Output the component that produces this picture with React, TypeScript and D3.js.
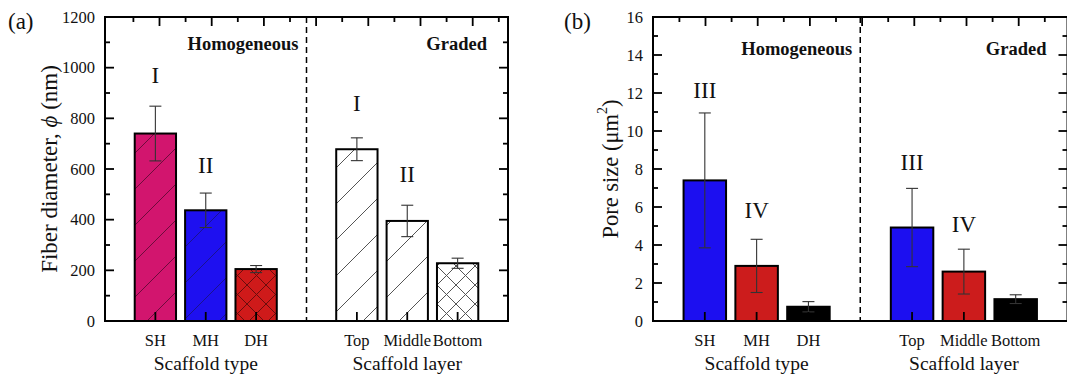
import React from 'react';
import * as d3 from 'd3';

// ---------- data ----------
const categories = ['SH', 'MH', 'DH', 'Top', 'Middle', 'Bottom'];
const bandKeys = ['SH', 'MH', 'DH', 'divider', 'Top', 'Middle', 'Bottom'];
const groupTitles = ['Scaffold type', 'Scaffold layer'];
const groupCenters = ['MH', 'Middle'];
const sectionTitles = ['Homogeneous', 'Graded'];

const fiberMean = [740, 437, 205, 678, 395, 228];
const fiberErr = [108, 68, 14, 45, 62, 20];
const fiberLetters = ['I', 'II', '', 'I', 'II', ''];
const fiberLetterLevels = [938, 583, 0, 830, 550, 0];
const fiberTicks = [0, 200, 400, 600, 800, 1000, 1200];

const poreMean = [7.4, 2.9, 0.75, 4.92, 2.6, 1.15];
const poreErr = [3.55, 1.4, 0.27, 2.06, 1.18, 0.23];
const poreLetters = ['III', 'IV', '', 'III', 'IV', ''];
const poreLetterLevels = [11.75, 5.4, 0, 7.95, 4.67, 0];
const poreTicks = [0, 2, 4, 6, 8, 10, 12, 14, 16];

const fiberFills = ['#d2156e', '#1e10f0', '#cf1a1a', '#ffffff', '#ffffff', '#ffffff'];
const fiberHatch = ['diag', 'diag', 'cross', 'diag', 'diag', 'cross'];
const fiberHatchColors = ['#6e0b3c', '#1a1290', '#6a0d0d', '#555555', '#555555', '#555555'];
const poreFills = ['#1c0ff0', '#cc1c1c', '#000000', '#1c0ff0', '#cc1c1c', '#000000'];
const poreHatch = ['none', 'none', 'none', 'none', 'none', 'none'];

const FONT = '"Liberation Serif", "Times New Roman", Times, serif';

type PanelProps = {
  id: string;
  left: number;
  right: number;
  top: number;
  bottom: number;
  yMax: number;
  ticks: number[];
  minorStep: number;
  means: number[];
  errs: number[];
  fills: string[];
  hatch: string[];
  hatchColors?: string[];
  letters: string[];
  letterLevels: number[];
  panelLabel: string;
  panelLabelX: number;
  yTitle: React.ReactNode;
  yTitleX: number;
  yTitleSize: number;
  sectionBaseline: number;
  topTickOffset: number;
};

function Panel(p: PanelProps) {
  const x = d3
    .scaleBand<string>()
    .domain(bandKeys)
    .range([p.left, p.right])
    .paddingInner(0.18)
    .paddingOuter(0.59);
  const y = d3.scaleLinear().domain([0, p.yMax]).range([p.bottom, p.top]);
  const bw = x.bandwidth();
  const cx = (k: string) => (x(k) as number) + bw / 2;
  const divX = cx('divider');

  const minorTicks = d3.range(0, p.yMax + 1e-9, p.minorStep).filter(
    (v) => !p.ticks.some((t) => Math.abs(t - v) < 1e-9)
  );

  const topScale = d3
    .scaleLinear()
    .domain([0, 8])
    .range([p.left + p.topTickOffset, p.left + p.topTickOffset + 8 * 52.2]);
  const topTicks = d3.range(0.5, 8.01, 0.5).filter((v) => topScale(v) < p.right - 3);

  return (
    <g fontFamily={FONT}>
      <defs>
        {categories.map((c, i) => {
          if (p.hatch[i] === 'diag') {
            return (
              <pattern key={c} id={`${p.id}-pat-${i}`} patternUnits="userSpaceOnUse" width={36} height={36}>
                <rect width={36} height={36} fill={p.fills[i]} />
                <path
                  d="M0,36 L36,0 M-9,9 L9,-9 M27,45 L45,27"
                  stroke={p.hatchColors![i]}
                  strokeWidth={1}
                />
              </pattern>
            );
          }
          if (p.hatch[i] === 'cross') {
            return (
              <pattern key={c} id={`${p.id}-pat-${i}`} patternUnits="userSpaceOnUse" width={19} height={19}>
                <rect width={19} height={19} fill={p.fills[i]} />
                <path
                  d="M0,19 L19,0 M-5,5 L5,-5 M14,24 L24,14 M0,0 L19,19 M-5,14 L5,24 M14,-5 L24,5"
                  stroke={p.hatchColors![i]}
                  strokeWidth={1}
                />
              </pattern>
            );
          }
          return null;
        })}
      </defs>

      {categories.map((c, i) => (
        <rect
          key={c}
          x={x(c)}
          y={y(p.means[i])}
          width={bw}
          height={y(0) - y(p.means[i])}
          fill={p.hatch[i] === 'none' ? p.fills[i] : `url(#${p.id}-pat-${i})`}
          stroke="#000"
          strokeWidth={2}
        />
      ))}

      {categories.map((c, i) => {
        const xc = cx(c);
        const y1 = y(p.means[i] + p.errs[i]);
        const y2 = y(p.means[i] - p.errs[i]);
        return (
          <g key={c} stroke="#333" strokeWidth={1.1}>
            <line x1={xc} x2={xc} y1={y1} y2={y2} />
            <line x1={xc - 6} x2={xc + 6} y1={y1} y2={y1} />
            <line x1={xc - 6} x2={xc + 6} y1={y2} y2={y2} />
          </g>
        );
      })}

      <line x1={divX} x2={divX} y1={p.top} y2={p.bottom} stroke="#000" strokeWidth={1.5} strokeDasharray="6,4" />

      <rect
        x={p.left}
        y={p.top}
        width={p.right - p.left}
        height={p.bottom - p.top}
        fill="none"
        stroke="#000"
        strokeWidth={2}
      />

      {p.ticks.map((t) => (
        <g key={'M' + t} stroke="#000" strokeWidth={1.8}>
          <line x1={p.left} x2={p.left + 9} y1={y(t)} y2={y(t)} />
          <line x1={p.right} x2={p.right - 9} y1={y(t)} y2={y(t)} />
        </g>
      ))}
      {minorTicks.map((t) => (
        <g key={'m' + t} stroke="#000" strokeWidth={1.8}>
          <line x1={p.left} x2={p.left + 5} y1={y(t)} y2={y(t)} />
          <line x1={p.right} x2={p.right - 5} y1={y(t)} y2={y(t)} />
        </g>
      ))}

      {topTicks.map((t) => (
        <line
          key={'t' + t}
          x1={topScale(t)}
          x2={topScale(t)}
          y1={p.top}
          y2={p.top + (Number.isInteger(t) ? 9 : 5)}
          stroke="#000"
          strokeWidth={1.8}
        />
      ))}

      {categories.map((c) => (
        <line key={'b' + c} x1={cx(c)} x2={cx(c)} y1={p.bottom} y2={p.bottom - 9} stroke="#000" strokeWidth={1.8} />
      ))}

      {p.ticks.map((t) => (
        <text key={'l' + t} x={p.left - 10} y={y(t)} dy="0.35em" textAnchor="end" fontSize={16.5} fill="#111">
          {t}
        </text>
      ))}

      {categories.map((c) => (
        <text key={'c' + c} x={cx(c)} y={346} textAnchor="middle" fontSize={16.5} fill="#111">
          {c}
        </text>
      ))}
      {groupTitles.map((g, i) => (
        <text key={g} x={cx(groupCenters[i])} y={370} textAnchor="middle" fontSize={19.5} fill="#111">
          {g}
        </text>
      ))}

      {categories.map((c, i) =>
        p.letters[i] ? (
          <text key={'L' + c} x={cx(c)} y={y(p.letterLevels[i])} textAnchor="middle" fontSize={23} fill="#111">
            {p.letters[i]}
          </text>
        ) : null
      )}

      <text x={divX - 8} y={p.sectionBaseline} textAnchor="end" fontSize={18.5} fontWeight="bold" fill="#111">
        {sectionTitles[0]}
      </text>
      <text x={p.right - 21} y={p.sectionBaseline} textAnchor="end" fontSize={18.5} fontWeight="bold" fill="#111">
        {sectionTitles[1]}
      </text>

      <text
        transform={`translate(${p.yTitleX},${(p.top + p.bottom) / 2}) rotate(-90)`}
        textAnchor="middle"
        dominantBaseline="central"
        fontSize={p.yTitleSize}
        fill="#111"
      >
        {p.yTitle}
      </text>

      <text x={p.panelLabelX} y={29} fontSize={23} fill="#111">
        {p.panelLabel}
      </text>
    </g>
  );
}

export default function App() {
  return (
    <svg
      width={1067}
      height={376}
      style={{ position: 'absolute', left: 0, top: 0, background: '#fff' }}
    >
      <rect width={1067} height={376} fill="#fff" />
      <Panel
        id="a"
        left={105}
        right={508}
        top={17}
        bottom={321}
        yMax={1200}
        ticks={fiberTicks}
        minorStep={100}
        means={fiberMean}
        errs={fiberErr}
        fills={fiberFills}
        hatch={fiberHatch}
        hatchColors={fiberHatchColors}
        letters={fiberLetters}
        letterLevels={fiberLetterLevels}
        panelLabel="(a)"
        panelLabelX={8}
        yTitle={
          <>
            Fiber diameter, <tspan fontStyle="italic">ϕ</tspan> (nm)
          </>
        }
        yTitleX={49}
        yTitleSize={23}
        sectionBaseline={50}
        topTickOffset={2.3}
      />
      <Panel
        id="b"
        left={653}
        right={1067.5}
        top={17}
        bottom={321}
        yMax={16}
        ticks={poreTicks}
        minorStep={1}
        means={poreMean}
        errs={poreErr}
        fills={poreFills}
        hatch={poreHatch}
        letters={poreLetters}
        letterLevels={poreLetterLevels}
        panelLabel="(b)"
        panelLabelX={564}
        yTitle={
          <>
            Pore size (μm
            <tspan dy={-8} fontSize={14}>
              2
            </tspan>
            <tspan dy={8}>)</tspan>
          </>
        }
        yTitleX={610}
        yTitleSize={22.5}
        sectionBaseline={55}
        topTickOffset={0.3}
      />
    </svg>
  );
}
